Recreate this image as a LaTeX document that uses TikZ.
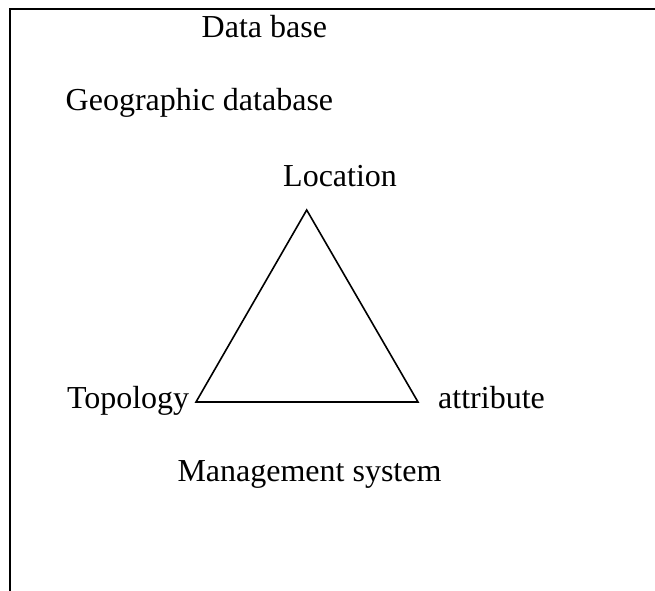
\documentclass[tikz,border=0pt]{standalone}
\usepackage{fontspec}
\setmainfont{Liberation Serif}
\begin{document}
\begin{tikzpicture}[x=1pt,y=-1pt,
  lbl/.style={inner sep=0pt,anchor=base west,font=\fontsize{32}{38}\selectfont},
  frameline/.style={line width=2.4pt},
  triline/.style={line width=1.6pt,line join=miter}]
\useasboundingbox (0,0) rectangle (655,590);
% frame
\coordinate (fb) at (10,591);
\coordinate (fc) at (10,9);
\coordinate (fr) at (656,9);
\draw[frameline] (fb) -- (fc) -- (fr);
% texts
\node[lbl] (db) at (201.5,37.7) {Data base};
\node[lbl] (geo) at (65.5,110.7) {Geographic database};
\node[lbl] (loc) at (283,186.7) {Location};
\node[lbl] (top) at (66.8,408.7) {Topology};
\node[lbl] (att) at (438,408.3) {attribute};
\node[lbl] (mgmt) at (177.3,481.7) {Management system};
% triangle
\coordinate (apex) at (306.7,210);
\coordinate (bl) at (196,402);
\coordinate (br) at (418,402);
\draw[triline] (apex) -- (bl) -- (br) -- cycle;
\end{tikzpicture}
\end{document}
